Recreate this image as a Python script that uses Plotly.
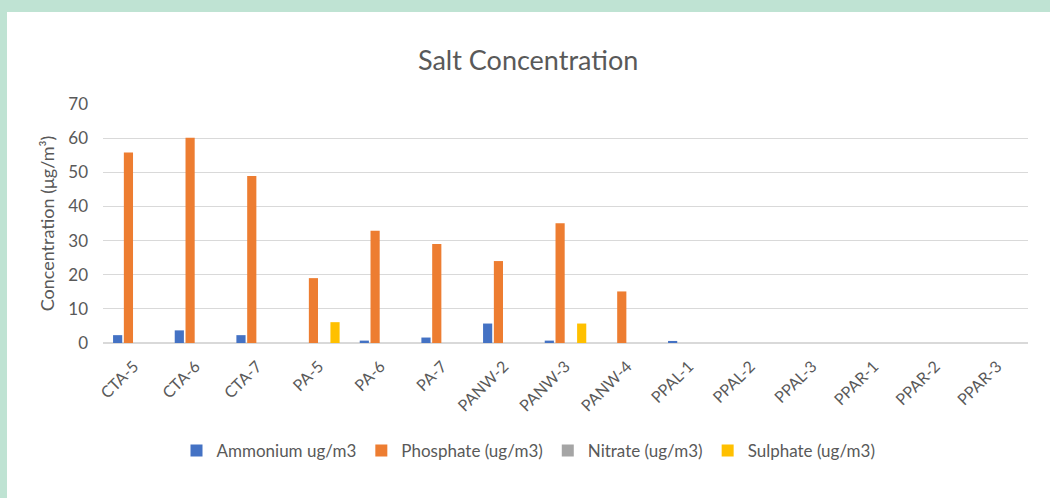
import plotly.graph_objects as go

# sample sites
sites = ['CTA-5', 'CTA-6', 'CTA-7', 'PA-5', 'PA-6', 'PA-7', 'PANW-2', 'PANW-3',
         'PANW-4', 'PPAL-1', 'PPAL-2', 'PPAL-3', 'PPAR-1', 'PPAR-2', 'PPAR-3']

ammonium = [2.3, 3.7, 2.3, 0, 0.7, 1.6, 5.7, 0.7, 0, 0.6, 0, 0, 0, 0, 0]
phosphate = [55.8, 60.1, 48.9, 19, 32.9, 29, 24, 35.1, 15.1, 0, 0, 0, 0, 0, 0]
nitrate = [0, 0, 0, 0, 0, 0, 0, 0, 0, 0, 0, 0, 0, 0, 0]
sulphate = [0, 0, 0, 6.1, 0, 0, 0, 5.7, 0, 0, 0, 0, 0, 0, 0]

series = [
    ('Ammonium ug/m3', ammonium, '#4472c4'),
    ('Phosphate (ug/m3)', phosphate, '#ed7d31'),
    ('Nitrate (ug/m3)', nitrate, '#a5a5a5'),
    ('Sulphate (ug/m3)', sulphate, '#ffc000'),
]

FONT = 'Lato, Carlito, Calibri, sans-serif'
GREY = '#595959'

fig = go.Figure()
for name, vals, col in series:
    fig.add_trace(go.Bar(
        x=sites, y=vals, name=name,
        marker=dict(color=col, line=dict(width=0)),
    ))

# green strips on the top and left edge of the page
fig.add_shape(type='rect', xref='paper', yref='paper',
              x0=-0.2, x1=1.1, y0=331 / 239, y1=1.6,
              fillcolor='#bfe3d3', line=dict(width=0), layer='below')
fig.add_shape(type='rect', xref='paper', yref='paper',
              x0=-0.2, x1=-96 / 925, y0=-1, y1=1.6,
              fillcolor='#bfe3d3', line=dict(width=0), layer='below')

fig.update_layout(
    width=1050, height=498,
    margin=dict(l=103, r=22, t=104, b=155),
    paper_bgcolor='white',
    plot_bgcolor='white',
    barmode='group', bargap=0.3, bargroupgap=0.15,
    font=dict(family=FONT, color=GREY, size=16),
    title=dict(text='Salt Concentration', x=0.503, xanchor='center',
               y=1 - 61 / 498, yanchor='middle',
               font=dict(family=FONT, size=27, color=GREY)),
    legend=dict(orientation='h', x=0.46, xanchor='center', y=-0.452, yanchor='middle',
                font=dict(size=17, color=GREY), itemwidth=30, bgcolor='white',
                traceorder='normal'),
    xaxis=dict(tickangle=-45, tickfont=dict(size=16, color=GREY),
               showline=False, ticks='', showgrid=False, ticklabelstandoff=10),
    yaxis=dict(range=[0, 70], dtick=10, showgrid=True, gridcolor='#d9d9d9',
               gridwidth=1, zeroline=True, zerolinecolor='#d9d9d9', zerolinewidth=1.5,
               tickfont=dict(size=17, color=GREY), ticks='', ticklabelstandoff=14,
               title=dict(text='Concentration (μg/m³)', standoff=8,
                          font=dict(size=18, color=GREY))),
)

fig.write_html('out.html', config={'displayModeBar': False},
               post_script="document.body.style.margin='0';")
